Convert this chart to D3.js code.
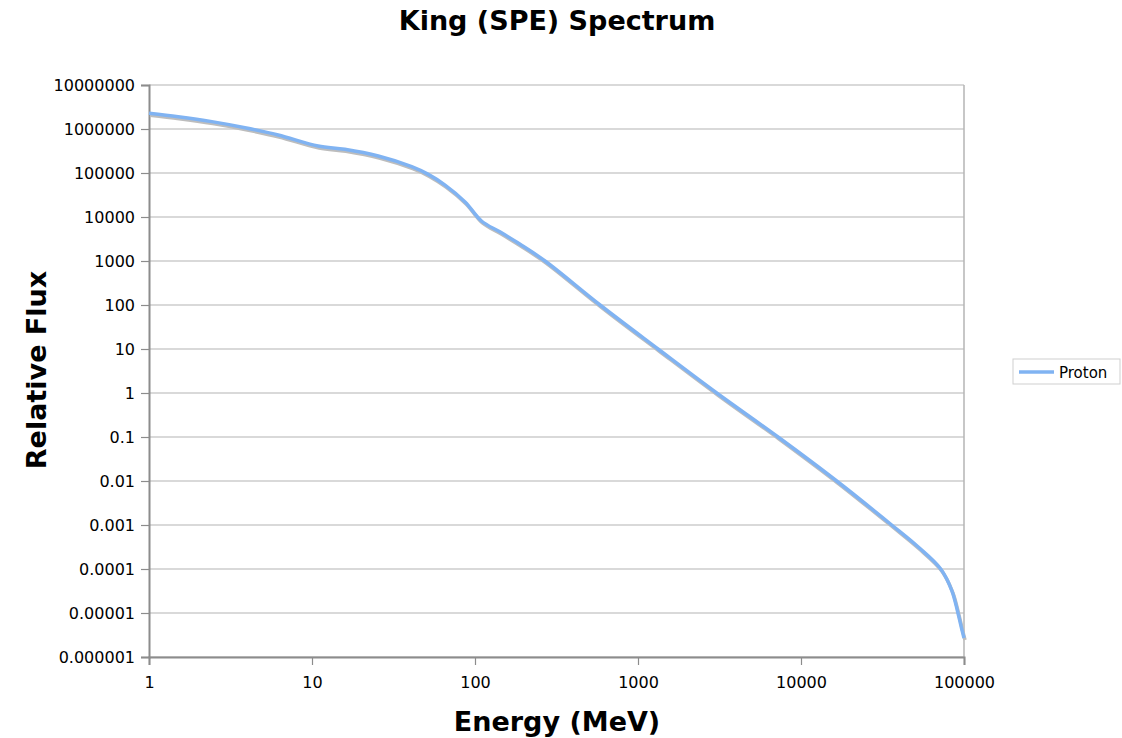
<!DOCTYPE html>
<html lang="en">
<head>
<meta charset="utf-8">
<title>King (SPE) Spectrum</title>
<script src="https://d3js.org/d3.v7.min.js"></script>
<style>
  body { margin: 0; background: #fff; }
  text { font-family: "DejaVu Sans", Verdana, sans-serif; fill: #000; }
</style>
</head>
<body>
<div id="chart"></div>
<script>
// values
var energy = [1, 1.51, 2.43, 3.88, 6.2, 10.9, 15.9, 25.5, 40.9, 51.7, 65.5, 86.9, 110, 142, 189, 269,
  585, 1327, 3040, 7230, 16560, 36000, 52200, 72000, 84300, 91800, 97200, 100000];
var flux = [2.28e6, 1.9e6, 1.47e6, 1.07e6, 7.3e5, 4.1e5, 3.45e5, 2.43e5, 1.39e5, 9.3e4, 5.3e4, 2.2e4, 8.0e3, 4.6e3, 2.4e3, 1000,
  100, 10, 1, 0.1, 0.01, 0.001, 3.2e-4, 1e-4, 3.2e-5, 1e-5, 4.1e-6, 2.7e-6];
var xTicks = [1, 10, 100, 1000, 10000, 100000];
var yTicks = [1e7, 1e6, 1e5, 1e4, 1e3, 100, 10, 1, 0.1, 0.01, 0.001, 0.0001, 0.00001, 0.000001];
var yLabels = ["10000000", "1000000", "100000", "10000", "1000", "100", "10", "1", "0.1", "0.01",
  "0.001", "0.0001", "0.00001", "0.000001"];
var seriesName = "Proton";

var width = 1122, height = 738;
var plotL = 149, plotR = 964, plotT = 85, plotB = 657;

var svg = d3.select('#chart').append('svg')
  .attr('width', width)
  .attr('height', height);

var x = d3.scaleLog().domain([1, 100000]).range([plotL, plotR]);
var y = d3.scaleLog().domain([0.000001, 10000000]).range([plotB, plotT]);

// gridlines
svg.append('g').selectAll('line').data(yTicks).enter().append('line')
  .attr('x1', plotL).attr('x2', plotR)
  .attr('y1', function(d){ return y(d); }).attr('y2', function(d){ return y(d); })
  .attr('stroke', '#b4b4b4').attr('stroke-width', 1.2);

// right border
svg.append('line')
  .attr('x1', plotR).attr('x2', plotR).attr('y1', plotT).attr('y2', plotB)
  .attr('stroke', '#b4b4b4').attr('stroke-width', 1.5);

// y axis
var yAxis = d3.axisLeft(y).tickValues(yTicks)
  .tickFormat(function(d, i){ return yLabels[i]; })
  .tickSize(8).tickPadding(6);
var gy = svg.append('g').attr('transform', 'translate(' + plotL + ',0)').call(yAxis);
gy.select('.domain').attr('stroke', '#8c8c8c').attr('stroke-width', 2);
gy.selectAll('.tick line').attr('stroke', '#8c8c8c').attr('stroke-width', 1.2);
gy.selectAll('.tick text').attr('font-size', 16).attr('font-family', '"DejaVu Sans", Verdana, sans-serif');

// x axis
var xAxis = d3.axisBottom(x).tickValues(xTicks)
  .tickFormat(d3.format('d'))
  .tickSize(8).tickPadding(12);
var gx = svg.append('g').attr('transform', 'translate(0,' + plotB + ')').call(xAxis);
gx.select('.domain').attr('stroke', '#8c8c8c').attr('stroke-width', 2);
gx.selectAll('.tick line').attr('stroke', '#8c8c8c').attr('stroke-width', 1.2);
gx.selectAll('.tick text').attr('font-size', 16).attr('font-family', '"DejaVu Sans", Verdana, sans-serif');

var pts = energy.map(function(e, i){ return [e, flux[i]]; });
var line = d3.line()
  .x(function(d){ return x(d[0]); })
  .y(function(d){ return y(d[1]); })
  .curve(d3.curveCatmullRom.alpha(0.5));

// shadow then line
svg.append('path').datum(pts)
  .attr('d', line)
  .attr('transform', 'translate(1,2)')
  .attr('fill', 'none').attr('stroke', '#bdbdbd').attr('stroke-width', 3.5);
svg.append('path').datum(pts)
  .attr('d', line)
  .attr('fill', 'none').attr('stroke', '#80b3f2').attr('stroke-width', 3.5)
  .attr('stroke-linejoin', 'round');

// title & axis labels
svg.append('text')
  .attr('x', 557).attr('y', 30)
  .attr('text-anchor', 'middle')
  .attr('font-size', 27).attr('font-weight', 'bold')
  .text('King (SPE) Spectrum');

svg.append('text')
  .attr('x', 557).attr('y', 731)
  .attr('text-anchor', 'middle')
  .attr('font-size', 27).attr('font-weight', 'bold')
  .text('Energy (MeV)');

svg.append('text')
  .attr('transform', 'translate(46,370) rotate(-90)')
  .attr('text-anchor', 'middle')
  .attr('font-size', 27).attr('font-weight', 'bold')
  .text('Relative Flux');

// legend
var lg = svg.append('g').attr('transform', 'translate(1013,359)');
lg.append('rect')
  .attr('width', 107).attr('height', 25)
  .attr('fill', '#fff').attr('stroke', '#cfcfcf');
lg.append('line')
  .attr('x1', 6).attr('x2', 41).attr('y1', 13).attr('y2', 13)
  .attr('stroke', '#80b3f2').attr('stroke-width', 3.5);
lg.append('text')
  .attr('x', 46).attr('y', 18.5)
  .attr('font-size', 15)
  .text(seriesName);
</script>
</body>
</html>
